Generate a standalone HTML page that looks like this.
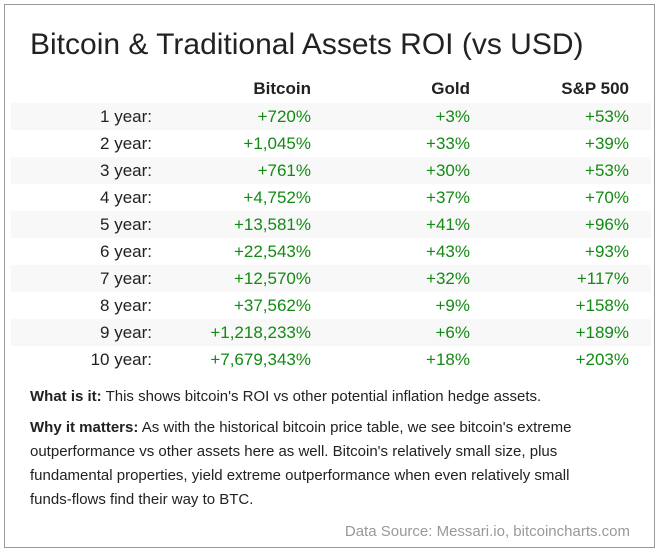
<!DOCTYPE html>
<html><head><meta charset="utf-8">
<style>
body{margin:0;width:661px;height:557px;background:#fff;font-family:"Liberation Sans",Arial,sans-serif;position:relative;overflow:hidden}
.box{position:absolute;left:4px;top:4px;width:651px;height:544px;border:1px solid #999;box-sizing:border-box}
.t{position:absolute;white-space:nowrap}
.title{left:30px;top:28px;font-size:30px;color:#222}
.hd{font-weight:bold;font-size:17px;color:#222}
.band{position:absolute;left:11px;width:640px;height:27px;background:#f8f8f8}
.cell{position:absolute;font-size:17px;line-height:27px;text-align:right}
.p{left:30px;font-size:15px;color:#222;line-height:24px;width:580px;white-space:normal}
</style></head><body>
<div class="box"></div>
<div class="t title">Bitcoin &amp; Traditional Assets ROI (vs USD)</div>
<div id="tbl"></div>
<div class="t p" style="top:385px"><b>What is it:</b> This shows bitcoin's ROI vs other potential inflation hedge assets.</div>
<div class="t p" style="top:416px"><b>Why it matters:</b> As with the historical bitcoin price table, we see bitcoin's extreme outperformance vs other assets here as well. Bitcoin's relatively small size, plus fundamental properties, yield extreme outperformance when even relatively small funds-flows find their way to BTC.</div>
<div class="t" style="right:31px;top:523px;font-size:15px;color:#999">Data Source: Messari.io, bitcoincharts.com</div>
<script>
const headers=["Bitcoin","Gold","S&P 500"];
const periods=["1 year:","2 year:","3 year:","4 year:","5 year:","6 year:","7 year:","8 year:","9 year:","10 year:"];
const bitcoin=["+720%","+1,045%","+761%","+4,752%","+13,581%","+22,543%","+12,570%","+37,562%","+1,218,233%","+7,679,343%"];
const gold=["+3%","+33%","+30%","+37%","+41%","+43%","+32%","+9%","+6%","+18%"];
const sp500=["+53%","+39%","+53%","+70%","+96%","+93%","+117%","+158%","+189%","+203%"];
const tbl=document.getElementById('tbl');
const rights=[152,311,470,629];
function cell(txt,right,top,color,bold,name){
  const d=document.createElement('div');
  d.className='cell';
  d.style.right=(661-right)+'px';d.style.top=top+'px';d.style.color=color;
  if(bold)d.style.fontWeight='bold';
  d.textContent=txt;
  
  
  tbl.appendChild(d);
}
headers.forEach((h,i)=>cell(h,rights[i+1],75,'#222',true,'column-header'));
const cols=[bitcoin,gold,sp500];
periods.forEach((p,r)=>{
  const top=103+r*27;
  if(r%2===0){const b=document.createElement('div');b.className='band';b.style.top=top+'px';
    
    
    tbl.appendChild(b);}
  cell(p,rights[0],top,'#222',false,'row-label');
  cols.forEach((c,i)=>cell(c[r],rights[i+1],top,'#138a13',false,'roi-value'));
});
</script>
</body></html>
